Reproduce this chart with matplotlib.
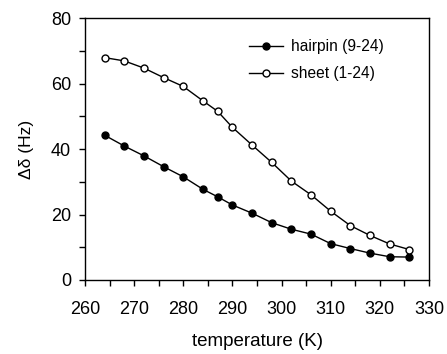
import matplotlib
matplotlib.use("Agg")
import matplotlib.pyplot as plt
from matplotlib.ticker import MultipleLocator

plt.rcParams['font.family'] = ['Liberation Sans', 'DejaVu Sans']

temperature = [264, 268, 272, 276, 280, 284, 287, 290, 294, 298, 302, 306, 310, 314, 318, 322, 326]
hairpin = [44.2, 40.9, 37.9, 34.6, 31.5, 27.7, 25.4, 22.9, 20.4, 17.5, 15.5, 14.0, 11.1, 9.6, 8.2, 7.1, 7.0]
sheet = [67.9, 66.9, 64.7, 61.8, 59.1, 54.7, 51.5, 46.6, 41.2, 35.9, 30.2, 26.0, 21.0, 16.6, 13.6, 11.0, 9.3]
labels = ["hairpin (9-24)", "sheet (1-24)"]

fig = plt.figure(figsize=(4.47, 3.54), dpi=100)
ax = fig.add_axes([85/447, 1 - 280/354, (429-85)/447, (280-18)/354])

ax.plot(temperature, hairpin, '-o', color='black', lw=1.0, ms=5,
        mfc='black', mec='black', label=labels[0])
ax.plot(temperature, sheet, '-o', color='black', lw=1.0, ms=5,
        mfc='white', mec='black', mew=1.0, label=labels[1])

ax.set_xlim(260, 330)
ax.set_ylim(0, 80)
ax.xaxis.set_major_locator(MultipleLocator(10))
ax.xaxis.set_minor_locator(MultipleLocator(5))
ax.yaxis.set_major_locator(MultipleLocator(20))
ax.yaxis.set_minor_locator(MultipleLocator(10))
ax.tick_params(which='major', direction='out', length=4, width=1, labelsize=13)
ax.tick_params(axis='x', which='major', pad=11)
ax.tick_params(axis='y', which='major', pad=6)
ax.tick_params(which='minor', direction='out', length=4, width=1)
for s in ax.spines.values():
    s.set_linewidth(1)

ax.set_xlabel("temperature (K)", fontsize=13.5, labelpad=11)
ax.set_ylabel("Δδ (Hz)", fontsize=12.5, labelpad=12)

ax.legend(loc='upper left', bbox_to_anchor=((249-85)/344, 0.918), frameon=False, fontsize=11.2,
          handlelength=2.2, handletextpad=0.5, labelspacing=0.75, borderpad=0, borderaxespad=0)

fig.savefig("out.png", dpi=100)
